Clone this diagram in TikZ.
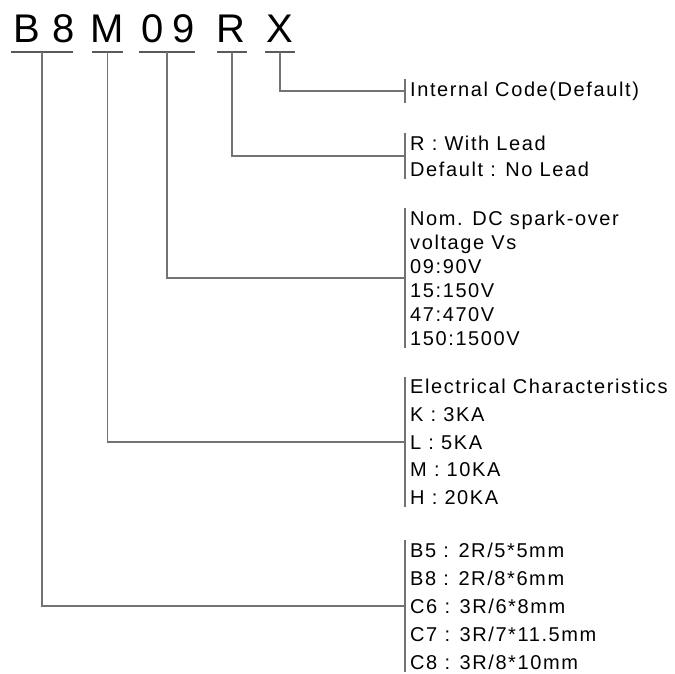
\documentclass[tikz,border=0pt]{standalone}
\usepackage{fontspec}
\setmainfont{Liberation Sans}
\newfontfamily\descfont{Liberation Sans}[LetterSpace=8]
\usetikzlibrary{positioning}
\tikzset{
  code/.style={inner sep=0pt,anchor=base,font=\fontsize{40}{40}\selectfont},
  info/.style={anchor=west,align=left,inner xsep=5pt,inner ysep=2pt},
  uline/.style={draw=black!65,line width=1.2pt},
  conn/.style={draw=black!55,line width=1.3pt},
}
\begin{document}
\begin{tikzpicture}[x=1pt,y=-1pt]
  \useasboundingbox (0,0) rectangle (675,673);
  % part number
  \node[code] (cB) at (27,42) {B};
  \node[code] (c8) at (64,42) {8};
  \node[code] (cM) at (107,42) {M};
  \node[code] (c0) at (153,42) {0};
  \node[code] (c9) at (184,42) {9};
  \node[code] (cR) at (231,42) {R};
  \node[code] (cX) at (280,42) {X};
  \draw[uline] (11,52) -- coordinate (uB8) (73,52);
  \draw[uline] (92,52) -- coordinate (uM) (123,52);
  \draw[uline] (139,52) -- coordinate (u09) (195,52);
  \draw[uline] (217,52) -- coordinate (uR) (247,52);
  \draw[uline] (265,52) -- coordinate (uX) (295,52);
  % descriptions
  \node[info,font=\descfont\fontsize{20}{24}\selectfont] (dX) at (405,91) {Internal Code(Default)};
  \node[info,font=\descfont\fontsize{20}{26}\selectfont] (dR) at (405,156)
    {R : With Lead\\Default : No Lead};
  \node[info,font=\descfont\fontsize{20}{24}\selectfont] (d09) at (405,278)
    {Nom. DC spark-over\\voltage Vs\\09:90V\\15:150V\\47:470V\\150:1500V};
  \node[info,font=\descfont\fontsize{20}{27.6}\selectfont] (dM) at (405,442)
    {Electrical Characteristics\\K : 3KA\\L : 5KA\\M : 10KA\\H : 20KA};
  \node[info,font=\descfont\fontsize{20}{28}\selectfont] (dB8) at (405,606)
    {B5 : 2R/5*5mm\\B8 : 2R/8*6mm\\C6 : 3R/6*8mm\\C7 : 3R/7*11.5mm\\C8 : 3R/8*10mm};
  \foreach \g in {dX,dR,d09,dM,dB8}
    \draw[conn] (\g.north west) -- (\g.south west);
  % leaders
  \draw[conn] (uX) |- (dX.west);
  \draw[conn] (uR) |- (dR.west);
  \draw[conn] (u09) |- (d09.west);
  \draw[conn] (uM) |- (dM.west);
  \draw[conn] (uB8) |- (dB8.west);
\end{tikzpicture}
\end{document}
